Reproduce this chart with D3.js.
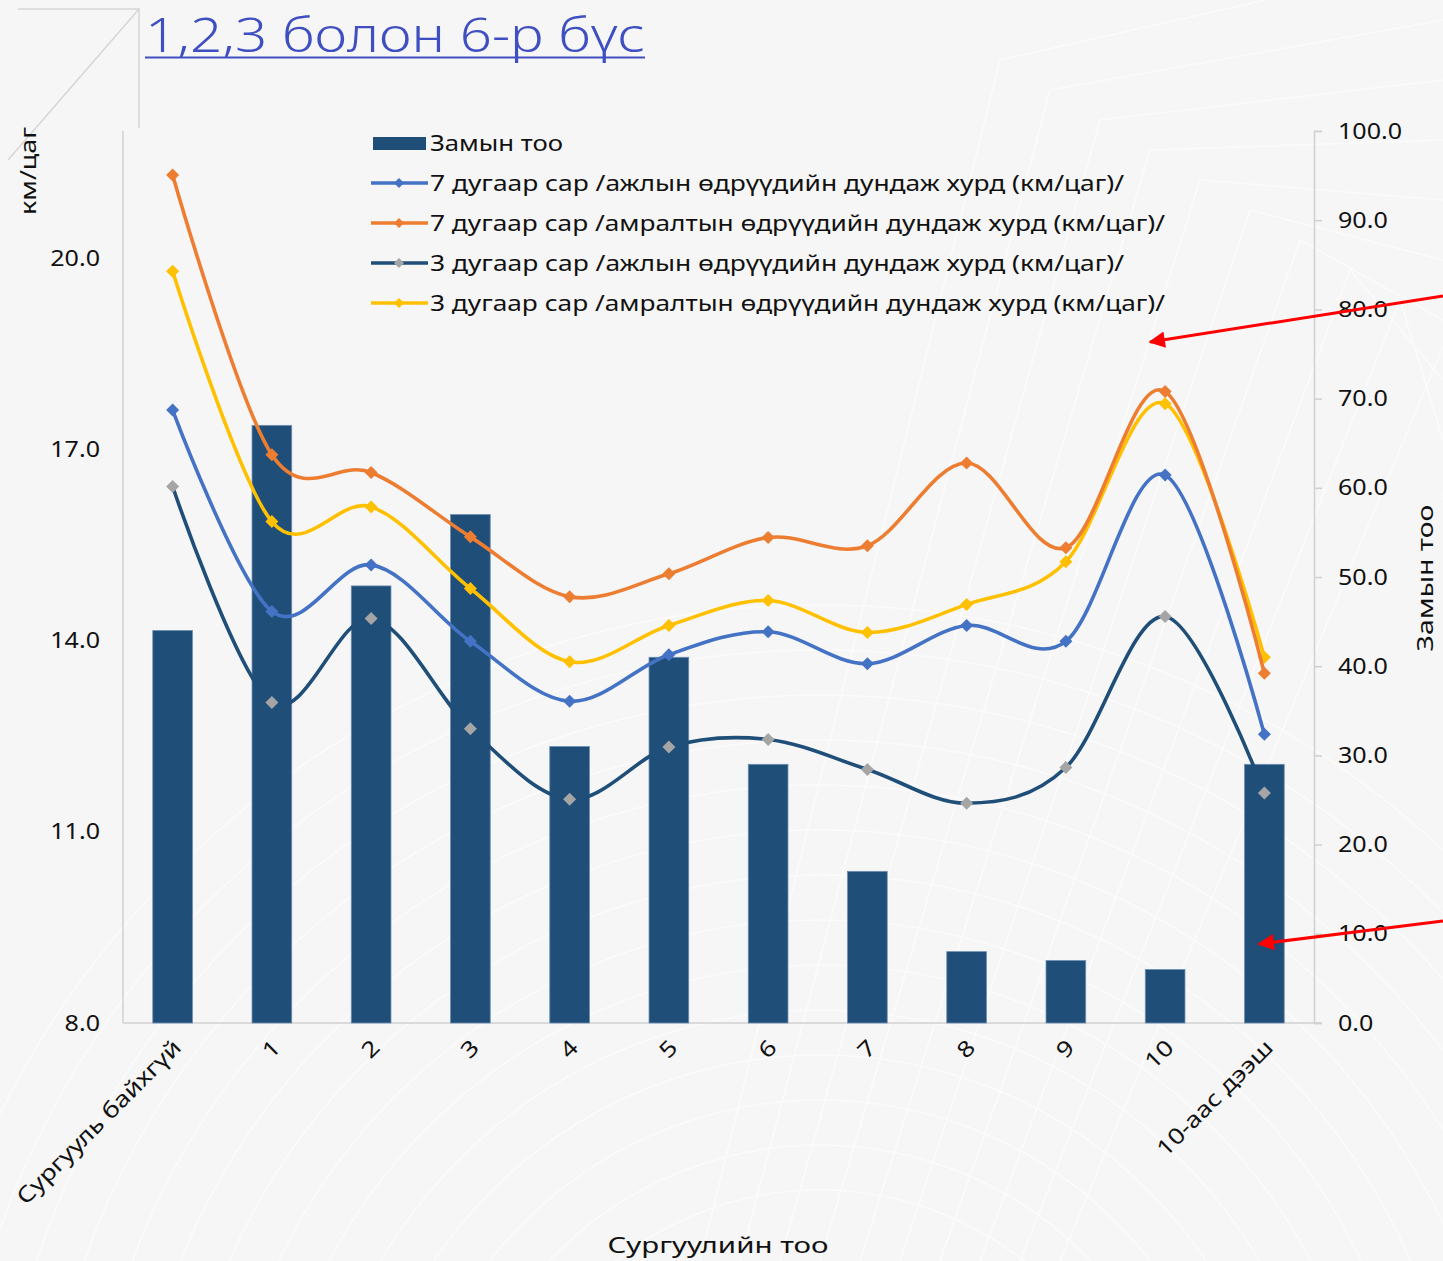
<!DOCTYPE html>
<html><head><meta charset="utf-8">
<script src="https://cdn.jsdelivr.net/npm/d3@7"></script>
<style>
html,body{margin:0;padding:0;background:#f6f6f6;}
svg{display:block;font-family:"Noto Sans",sans-serif;}
</style></head>
<body><svg id="c" width="1443" height="1261"></svg>
<script>
const categories = ["Сургууль байхгүй","1","2","3","4","5","6","7","8","9","10","10-аас дээш"];
const roadCount = [44,67,49,57,31,41,29,17,8,7,6,29];
const julWeekday = [17.62,14.46,15.19,13.99,13.05,13.78,14.14,13.64,14.24,13.99,16.60,12.53];
const julWeekend = [21.31,16.92,16.64,15.63,14.69,15.05,15.62,15.49,16.79,15.46,17.91,13.49];
const marWeekday = [16.42,13.03,14.35,12.62,11.51,12.33,12.45,11.98,11.45,12.01,14.38,11.61];
const marWeekend = [19.80,15.87,16.10,14.82,13.67,14.24,14.63,14.13,14.57,15.24,17.72,13.74];
const leftTicks = [8,11,14,17,20];
const rightTicks = [0,10,20,30,40,50,60,70,80,90,100];
const seriesNames = ["Замын тоо",
 "7 дугаар сар /ажлын өдрүүдийн дундаж хурд (км/цаг)/",
 "7 дугаар сар /амралтын өдрүүдийн дундаж хурд (км/цаг)/",
 "3 дугаар сар /ажлын өдрүүдийн дундаж хурд (км/цаг)/",
 "3 дугаар сар /амралтын өдрүүдийн дундаж хурд (км/цаг)/"];
const titleText = "1,2,3 болон 6-р бүс";

const svg = d3.select("#c");
const L = 123, R = 1314, T = 131, B = 1023;

function stretch(sel, k){
  sel.each(function(){ const w=this.getComputedTextLength(); this.setAttribute("textLength", w*k); this.setAttribute("lengthAdjust","spacingAndGlyphs"); });
}
function fitTo(sel, w){ sel.attr("textLength", w).attr("lengthAdjust","spacingAndGlyphs"); }

// background
svg.append("rect").attr("width",1443).attr("height",1261).attr("fill","#f6f6f6");
const wm = svg.append("g").attr("fill","none").attr("stroke","#ffffff").attr("stroke-width",1.6).attr("opacity",0.6);
d3.range(0,14).forEach(i=>{
  wm.append("circle").attr("cx",820).attr("cy",1520).attr("r",330+i*45);
});
d3.range(0,10).forEach(i=>{
  wm.append("path").attr("d",`M${700+i*40},${1261} L${1000+i*50},${60+i*30} L1443,${-40+i*60}`);
});

// decoration
const deco = svg.append("g").attr("stroke","#d6d6d6").attr("stroke-width",1.5).attr("fill","none");
deco.append("path").attr("d","M18,9 L139,9 L139,128");
deco.append("path").attr("d","M139,9 L8,160");

// title
const title = svg.append("text").attr("x",145).attr("y",52).attr("font-size",48).attr("font-weight",300)
  .attr("fill","#3f4fc2").text(titleText);
fitTo(title, 500);
svg.append("line").attr("x1",145).attr("x2",645).attr("y1",57.5).attr("y2",57.5).attr("stroke","#3f4fc2").attr("stroke-width",2);

// scales
const x = d3.scaleBand().domain(categories).range([L,R]).paddingInner(0.6).paddingOuter(0.3);
const yL = d3.scaleLinear().domain([8,22]).range([B,T]);
const yR = d3.scaleLinear().domain([0,100]).range([B,T]);

// axes lines
svg.append("line").attr("x1",L).attr("x2",L).attr("y1",T).attr("y2",B).attr("stroke","#d0d0d0").attr("stroke-width",1.5);
svg.append("line").attr("x1",L).attr("x2",R+8).attr("y1",B).attr("y2",B).attr("stroke","#d0d0d0").attr("stroke-width",1.5);

const axR = svg.append("g").attr("transform",`translate(${R},0)`)
  .call(d3.axisRight(yR).tickValues(rightTicks).tickFormat(d3.format(".1f")).tickSize(8).tickPadding(16));
axR.select(".domain").attr("stroke","#d0d0d0").attr("stroke-width",1.5);
axR.selectAll(".tick line").attr("stroke","#d0d0d0").attr("stroke-width",1.5);
axR.selectAll("text").attr("font-size",22).attr("fill","#111").attr("font-family","Noto Sans");
stretch(axR.selectAll("text"),1.14);

const axL = svg.append("g").attr("transform",`translate(${L},0)`)
  .call(d3.axisLeft(yL).tickValues(leftTicks).tickFormat(d3.format(".1f")).tickSize(0).tickPadding(23));
axL.select(".domain").remove();
axL.selectAll("text").attr("font-size",22).attr("fill","#111").attr("font-family","Noto Sans");
stretch(axL.selectAll("text"),1.14);

// x labels
const ax = svg.append("g").attr("transform",`translate(0,${B})`)
  .call(d3.axisBottom(x).tickSize(0).tickPadding(0));
ax.select(".domain").remove();
ax.selectAll("text").attr("font-size",22).attr("fill","#111").attr("font-family","Noto Sans")
  .attr("text-anchor","end").attr("dy",0)
  .attr("transform","translate(10,26) rotate(-45)");
stretch(ax.selectAll("text"),1.2);

// axis titles
const t1 = svg.append("text").attr("transform","translate(36,171) rotate(-90)").attr("text-anchor","middle")
  .attr("font-size",22).attr("fill","#111").text("км/цаг");
fitTo(t1, 88);
const t2 = svg.append("text").attr("transform","translate(1433,578) rotate(-90)").attr("text-anchor","middle")
  .attr("font-size",22).attr("fill","#111").text("Замын тоо");
fitTo(t2, 147);
const t3 = svg.append("text").attr("x",718).attr("y",1253).attr("text-anchor","middle")
  .attr("font-size",22).attr("fill","#111").text("Сургуулийн тоо");
fitTo(t3, 221);

// bars
svg.append("g").selectAll("rect").data(roadCount).join("rect")
  .attr("x",(d,i)=>x(categories[i])).attr("width",x.bandwidth())
  .attr("y",d=>yR(d)).attr("height",d=>B-yR(d))
  .attr("fill","#1f4e79").attr("stroke","#6d8fb3").attr("stroke-width",0.8);

// lines
const lineSeries = [
  {vals: julWeekday, color:"#4472c4", marker:"#4472c4"},
  {vals: julWeekend, color:"#ed7d31", marker:"#ed7d31"},
  {vals: marWeekday, color:"#1f4e79", marker:"#a5a5a5"},
  {vals: marWeekend, color:"#ffc000", marker:"#ffc000"}
];
const cx = i => x(categories[i]) + x.bandwidth()/2;
const line = d3.line().x((d,i)=>cx(i)).y(d=>yL(d)).curve(d3.curveCardinal.tension(0));
const diamond = s => `M0,${-s} L${s},0 L0,${s} L${-s},0Z`;
const order = [2,0,3,1];
order.forEach(k=>{
  const s = lineSeries[k];
  const g = svg.append("g");
  g.append("path").attr("d",line(s.vals)).attr("fill","none").attr("stroke",s.color).attr("stroke-width",3.6).attr("stroke-linejoin","round");
  g.selectAll("path.m").data(s.vals).join("path").attr("class","m")
    .attr("transform",(d,i)=>`translate(${cx(i)},${yL(d)})`).attr("d",diamond(6.5)).attr("fill",s.marker);
});

// legend
const lg = svg.append("g");
const ly = [143,183,223,263,303];
lg.append("rect").attr("x",373).attr("y",137).attr("width",53).attr("height",13).attr("fill","#1f4e79");
lineSeries.forEach((s,i)=>{
  const yy = ly[i+1];
  lg.append("line").attr("x1",371).attr("x2",428).attr("y1",yy).attr("y2",yy).attr("stroke",s.color).attr("stroke-width",3.6);
  lg.append("path").attr("transform",`translate(399,${yy})`).attr("d",diamond(5)).attr("fill",s.marker);
});
const legW = [133,694,735,694,735];
seriesNames.forEach((n,i)=>{
  const t = lg.append("text").attr("x",430).attr("y",ly[i]+8).attr("font-size",22).attr("fill","#111").text(n);
  fitTo(t, legW[i]);
});

// red arrows
const defs = svg.append("defs");
defs.append("marker").attr("id","ah").attr("viewBox","0 0 10 10").attr("refX",9).attr("refY",5)
  .attr("markerWidth",6.5).attr("markerHeight",5.5).attr("orient","auto").attr("markerUnits","strokeWidth")
  .append("path").attr("d","M0,0 L10,5 L0,10 Z").attr("fill","#ff0000");
svg.append("line").attr("x1",1443).attr("y1",296).attr("x2",1150).attr("y2",342).attr("stroke","#ff0000").attr("stroke-width",3).attr("marker-end","url(#ah)");
svg.append("line").attr("x1",1443).attr("y1",921).attr("x2",1259).attr("y2",944).attr("stroke","#ff0000").attr("stroke-width",3).attr("marker-end","url(#ah)");
</script></body></html>
